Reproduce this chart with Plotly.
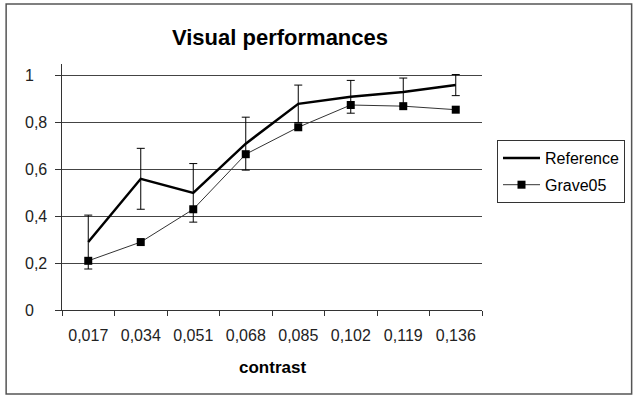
import plotly.graph_objects as go

categories = ["0,017", "0,034", "0,051", "0,068", "0,085", "0,102", "0,119", "0,136"]
reference = [0.29, 0.56, 0.50, 0.71, 0.88, 0.91, 0.93, 0.96]
reference_err = [0.115, 0.13, 0.125, 0.113, 0.08, 0.07, 0.06, 0.045]
grave05 = [0.21, 0.29, 0.43, 0.665, 0.78, 0.875, 0.87, 0.855]
y_ticks = [0, 0.2, 0.4, 0.6, 0.8, 1.0]

FONT = "Liberation Sans, Arial, sans-serif"

fig = go.Figure()
fig.add_trace(go.Scatter(
    x=categories, y=reference, name="Reference", mode="lines", legendgroup="a",
    line=dict(color="black", width=2.5),
    error_y=dict(type="data", array=reference_err, visible=True,
                 color="black", thickness=1, width=4),
))
fig.add_trace(go.Scatter(
    x=categories, y=grave05, name="Grave05", mode="lines+markers", legendgroup="b",
    line=dict(color="#333333", width=1),
    marker=dict(symbol="square", size=8, color="black"),
))

L, R, T, B = 62, 483, 64, 310
W, H = 636, 396
pw, ph = R - L, B - T

def px(x):
    return (x - L) / pw

def py(y):
    return (B - y) / ph

fig.update_layout(
    width=W, height=H,
    margin=dict(l=L, r=W - R, t=T, b=H - B, pad=0),
    paper_bgcolor="white", plot_bgcolor="white",
    separators=", ",
    font=dict(family=FONT, size=15, color="black"),
    title=dict(text="<b>Visual performances</b>", x=280 / W, xanchor="center",
               y=1 - 37 / H, yanchor="middle", yref="container",
               font=dict(family=FONT, size=22, color="black")),
    showlegend=True,
    legend=dict(x=px(497), y=py(140), xanchor="left", yanchor="top",
                bordercolor="#333333", borderwidth=1, bgcolor="white",
                font=dict(family=FONT, size=16, color="black"),
                tracegroupgap=3, itemwidth=37),
    xaxis=dict(type="category", range=[-0.5, 7.5], tickson="boundaries",
               ticks="outside", ticklen=5, tickcolor="#333333",
               showline=True, linecolor="#333333", linewidth=1,
               showgrid=False, zeroline=False, ticklabelstandoff=11,
               tickfont=dict(family=FONT, size=16, color="#222222")),
    yaxis=dict(range=[0, 1.05], tickvals=y_ticks, ticks="outside", ticklen=6,
               tickcolor="#333333", showline=True, linecolor="#333333", linewidth=1,
               showgrid=True, gridcolor="#444444", gridwidth=1, zeroline=False,
               showticklabels=False),
)

for v in y_ticks:
    fig.add_annotation(text=f"{v:g}".replace(".", ","), xref="paper", yref="y",
                       x=px(23), y=v, xanchor="left", yanchor="middle",
                       showarrow=False,
                       font=dict(family=FONT, size=16, color="#222222"))

fig.add_annotation(text="<b>contrast</b>", xref="paper", yref="paper",
                   x=0.5, y=py(367), xanchor="center", yanchor="middle",
                   showarrow=False, font=dict(family=FONT, size=17, color="black"))

fig.add_shape(type="rect", xref="paper", yref="paper",
              x0=px(6), x1=px(633), y0=py(394), y1=py(4),
              line=dict(color="#555555", width=1.5), fillcolor="rgba(0,0,0,0)",
              layer="below")

fig.write_html("out.html", config={"displayModeBar": False},
               post_script="document.body.style.margin='0';")
